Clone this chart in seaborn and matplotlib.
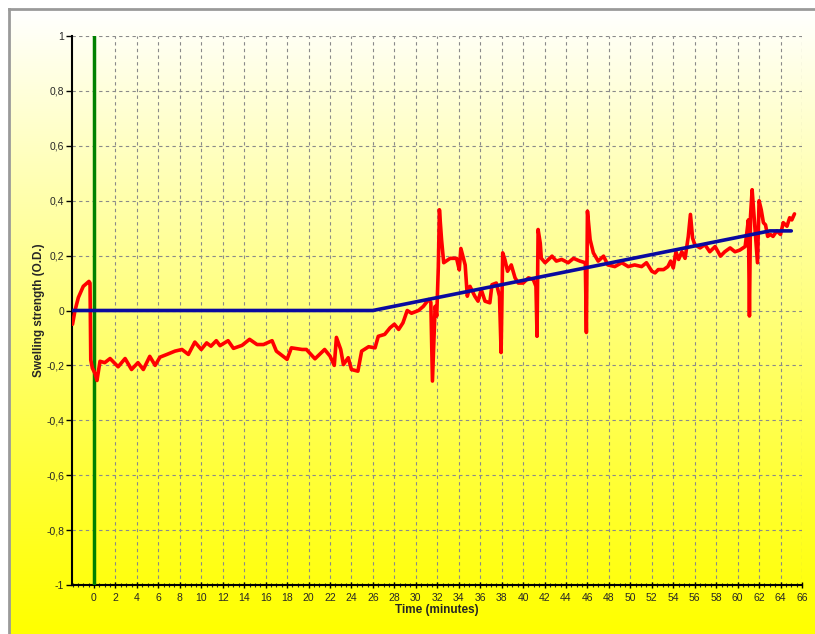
import numpy as np
import matplotlib
matplotlib.use("Agg")
import matplotlib.pyplot as plt
from matplotlib.ticker import MultipleLocator, FuncFormatter
import seaborn as sns

# 1. Data
red_time = [-2.0, -1.77, -1.46, -1.0, -0.47, -0.37, -0.3, -0.15, 0.1, 0.28, 0.56, 1.0, 1.5,
            2.25, 2.9, 3.5, 4.1, 4.6, 5.2, 5.7, 6.15, 6.8, 7.55, 8.2, 8.8, 9.4, 10.0, 10.5,
            10.9, 11.4, 11.75, 12.5, 13.0, 13.8, 14.5, 15.2, 15.8, 16.6, 17.0, 18.0, 18.4,
            19.4, 19.8, 20.6, 21.5, 22.0, 22.4, 22.6, 23.0, 23.25, 23.7, 24.0, 24.6, 24.95,
            25.6, 26.2, 26.5, 27.1, 27.6, 28.0, 28.4, 28.8, 29.2, 29.6, 30.25, 30.7, 31.2,
            31.4, 31.55, 31.8, 31.95, 32.1, 32.2, 32.4, 32.6, 33.2, 33.8, 34.05, 34.2, 34.6,
            34.8, 35.05, 35.5, 35.8, 36.1, 36.45, 36.9, 37.1, 37.5, 37.8, 37.95, 38.1, 38.3,
            38.55, 38.9, 39.25, 39.55, 40.0, 40.5, 40.95, 41.2, 41.3, 41.4, 41.6, 41.7, 42.05,
            42.7, 43.1, 43.6, 44.2, 44.7, 45.3, 45.8, 45.9, 46.0, 46.25, 46.55, 47.0, 47.5,
            47.9, 48.55, 49.2, 49.8, 50.4, 51.05, 51.5, 52.0, 52.3, 52.6, 53.1, 53.5, 53.75,
            54.0, 54.25, 54.5, 54.8, 55.1, 55.4, 55.6, 55.8, 56.0, 56.5, 56.95, 57.4, 57.9,
            58.4, 58.8, 59.3, 59.75, 60.2, 60.7, 61.0, 61.1, 61.2, 61.35, 61.5, 61.7, 61.85,
            62.0, 62.2, 62.4, 62.6, 62.8, 63.05, 63.3, 63.65, 64.0, 64.25, 64.6, 64.85, 65.05,
            65.3]
red_value = [-0.05, 0.0, 0.047, 0.088, 0.106, 0.10, -0.18, -0.21, -0.23, -0.255, -0.185, -0.19,
             -0.175, -0.205, -0.175, -0.215, -0.19, -0.215, -0.167, -0.2, -0.17, -0.16, -0.148,
             -0.142, -0.16, -0.115, -0.142, -0.118, -0.13, -0.11, -0.128, -0.11, -0.138, -0.127,
             -0.105, -0.124, -0.124, -0.11, -0.148, -0.178, -0.136, -0.142, -0.142, -0.176,
             -0.142, -0.166, -0.2, -0.098, -0.142, -0.197, -0.172, -0.215, -0.221, -0.148,
             -0.132, -0.136, -0.094, -0.087, -0.063, -0.05, -0.069, -0.045, 0.0, -0.01, 0.0,
             0.015, 0.04, 0.03, -0.257, 0.015, -0.02, 0.16, 0.367, 0.258, 0.174, 0.19, 0.19,
             0.148, 0.226, 0.166, 0.052, 0.088, 0.052, 0.034, 0.076, 0.034, 0.028, 0.094, 0.1,
             0.052, -0.153, 0.21, 0.186, 0.143, 0.166, 0.119, 0.1, 0.1, 0.119, 0.113, 0.088,
             -0.094, 0.295, 0.245, 0.19, 0.174, 0.198, 0.18, 0.186, 0.174, 0.19, 0.18, 0.174,
             -0.08, 0.362, 0.258, 0.21, 0.18, 0.198, 0.166, 0.16, 0.174, 0.16, 0.166, 0.16,
             0.174, 0.143, 0.137, 0.149, 0.149, 0.16, 0.18, 0.155, 0.214, 0.186, 0.214, 0.19,
             0.27, 0.35, 0.264, 0.24, 0.228, 0.24, 0.214, 0.233, 0.198, 0.214, 0.228, 0.214,
             0.22, 0.233, 0.33, -0.02, 0.343, 0.44, 0.36, 0.258, 0.174, 0.4, 0.367, 0.32, 0.312,
             0.27, 0.277, 0.27, 0.29, 0.277, 0.32, 0.307, 0.338, 0.33, 0.352]

blue_time = [-2.0, 26.0, 63.0, 65.0]
blue_value = [0.0, 0.0, 0.29, 0.29]

x_ticks = list(range(0, 67, 2))
y_ticks = [-1.0, -0.8, -0.6, -0.4, -0.2, 0.0, 0.2, 0.4, 0.6, 0.8, 1.0]

# 2. Style
sns.set_style("white")
plt.rcParams['font.family'] = ['Liberation Sans', 'DejaVu Sans']

fig = plt.figure(figsize=(8.15, 6.34), dpi=100)

# 3. Gradient background (white at top -> yellow at bottom)
bg = fig.add_axes([9 / 815, 0, 1 - 9 / 815, 1 - 9 / 634], zorder=0)
ramp = np.linspace(1.0, 0.0, 256).reshape(-1, 1)
grad = np.dstack([np.ones_like(ramp), np.ones_like(ramp), ramp ** 1.1])
bg.imshow(grad, aspect='auto', extent=[0, 1, 0, 1])
bg.set_xticks([])
bg.set_yticks([])
for side in ['right', 'bottom']:
    bg.spines[side].set_visible(False)
for side in ['left', 'top']:
    bg.spines[side].set_color('#9a9a9a')
    bg.spines[side].set_linewidth(2)

# 4. Main plot
ax = fig.add_axes([72 / 815, 1 - 585 / 634, (802 - 72) / 815, (585 - 36) / 634], zorder=1)
ax.set_facecolor('none')

ax.axvline(0, color='#008000', lw=2.5, zorder=3)
sns.lineplot(x=red_time, y=red_value, ax=ax, color='#ff0000', lw=2.6,
             estimator=None, sort=False, zorder=4)
sns.lineplot(x=blue_time, y=blue_value, ax=ax, color='#0a0aa0', lw=2.6,
             estimator=None, sort=False, zorder=5)

ax.set_xlim(-2.05, 66)
ax.set_ylim(-1, 1)
ax.set_xticks(x_ticks)
ax.xaxis.set_minor_locator(MultipleLocator(0.5))
ax.set_yticks(y_ticks)


def comma_fmt(v, pos):
    if abs(v - round(v)) < 1e-9:
        return f"{int(round(v))}"
    return f"{v:.1f}".replace('.', ',')


ax.yaxis.set_major_formatter(FuncFormatter(comma_fmt))

ax.grid(True, which='major', color='#8a8a8a', ls=(0, (3, 3)), lw=0.8)
for side in ['top', 'right']:
    ax.spines[side].set_visible(False)
for side in ['left', 'bottom']:
    ax.spines[side].set_color('black')
    ax.spines[side].set_linewidth(1.5)

ax.tick_params(axis='both', which='major', labelsize=7.5, length=4, width=1,
               color='black', pad=1.5, left=True, bottom=True)
ax.tick_params(axis='x', which='major', direction='inout', length=5, pad=3)
ax.tick_params(axis='x', which='minor', direction='inout', length=3, width=0.8, bottom=True)

ax.set_xlabel('Time (minutes)', fontsize=8.5, fontweight='bold', labelpad=1)
ax.set_ylabel('Swelling strength (O.D.)', fontsize=8.5, fontweight='bold', labelpad=1)

plt.savefig('out.png', dpi=100)
